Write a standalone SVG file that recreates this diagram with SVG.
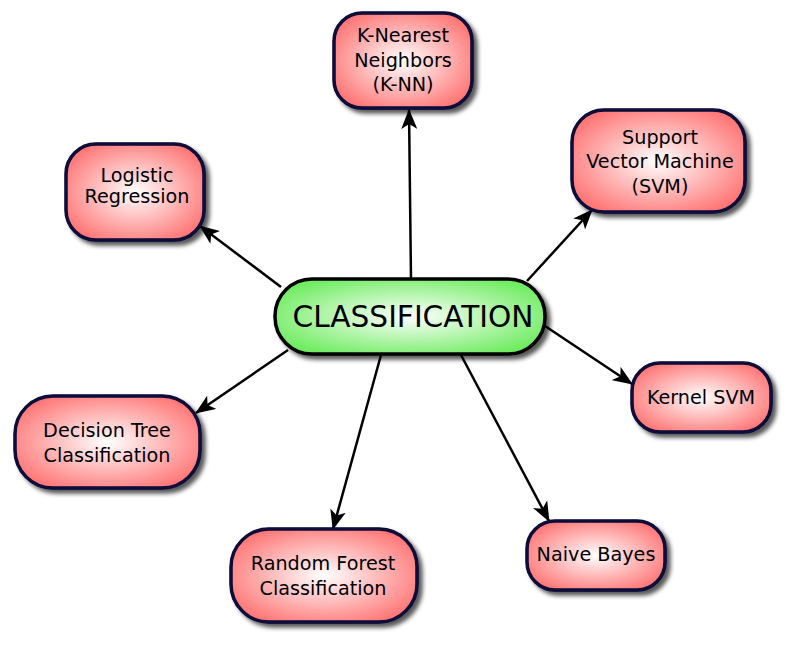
<svg xmlns="http://www.w3.org/2000/svg" width="792" height="646" viewBox="0 0 792 646">
<defs>
<radialGradient id="gr" cx="50%" cy="50%" r="58%">
<stop offset="0" stop-color="#ffffff"/>
<stop offset="1" stop-color="#ff7676"/>
</radialGradient>
<radialGradient id="gg" cx="50%" cy="50%" r="58%">
<stop offset="0" stop-color="#ffffff"/>
<stop offset="1" stop-color="#70ec62"/>
</radialGradient>
<filter id="sh" x="-20%" y="-20%" width="150%" height="160%">
<feDropShadow dx="4" dy="4" stdDeviation="2" flood-color="#000" flood-opacity="0.65"/>
</filter>
<marker id="ar" viewBox="0 0 20 16" refX="19" refY="8" markerWidth="20" markerHeight="16" markerUnits="userSpaceOnUse" orient="auto">
<path d="M0,0 L20,8 L0,16 L5,8 Z" fill="#000"/>
</marker>
</defs>
<style>
.n{fill:url(#gr);stroke:#080838;stroke-width:3.5;filter:url(#sh)}
.c{fill:url(#gg);stroke:#000;stroke-width:3.5;filter:url(#sh)}
.t{font-family:"DejaVu Sans",Verdana,sans-serif;font-size:19.2px;fill:#000;text-anchor:middle}
.ct{font-family:"DejaVu Sans",Verdana,sans-serif;font-size:29.6px;fill:#000;text-anchor:middle}
.e{stroke:#000;stroke-width:2.5;fill:none;marker-end:url(#ar)}
</style>
<rect width="792" height="646" fill="#fff"/>
<g id="connectors">
<line class="e" x1="411" y1="279" x2="409" y2="110"/>
<line class="e" x1="281" y1="287" x2="200" y2="226"/>
<line class="e" x1="527" y1="281" x2="592" y2="210"/>
<line class="e" x1="545" y1="326" x2="632" y2="384"/>
<line class="e" x1="461" y1="355" x2="549" y2="521"/>
<line class="e" x1="381" y1="355" x2="333" y2="529"/>
<line class="e" x1="288" y1="350" x2="196" y2="413"/>
</g>
<g id="classification">
<rect class="c" x="275" y="279" width="270" height="75" rx="37" ry="37"/>
<text class="ct" x="413" y="327">CLASSIFICATION</text>
</g>
<g id="knn">
<rect class="n" x="334" y="13" width="138" height="95" rx="28" ry="28"/>
<text class="t" x="403" y="42">K-Nearest</text>
<text class="t" x="403" y="67">Neighbors</text>
<text class="t" x="403" y="91">(K-NN)</text>
</g>
<g id="svm">
<rect class="n" x="572" y="110" width="173" height="102" rx="32" ry="32"/>
<text class="t" x="660" y="144">Support</text>
<text class="t" x="660" y="168">Vector Machine</text>
<text class="t" x="660" y="193">(SVM)</text>
</g>
<g id="logistic">
<rect class="n" x="66" y="144" width="138" height="96" rx="30" ry="30"/>
<text class="t" x="137" y="182">Logistic</text>
<text class="t" x="137" y="203">Regression</text>
</g>
<g id="decision-tree">
<rect class="n" x="15" y="396" width="185" height="92" rx="38" ry="38"/>
<text class="t" x="107" y="437">Decision Tree</text>
<text class="t" x="107" y="462">Classification</text>
</g>
<g id="kernel-svm">
<rect class="n" x="632" y="363" width="139" height="69" rx="28" ry="28"/>
<text class="t" x="701" y="404">Kernel SVM</text>
</g>
<g id="random-forest">
<rect class="n" x="231" y="529" width="186" height="93" rx="38" ry="38"/>
<text class="t" x="323" y="570">Random Forest</text>
<text class="t" x="323" y="595">Classification</text>
</g>
<g id="naive-bayes">
<rect class="n" x="527" y="521" width="138" height="69" rx="28" ry="28"/>
<text class="t" x="596" y="561">Naive Bayes</text>
</g>
</svg>
